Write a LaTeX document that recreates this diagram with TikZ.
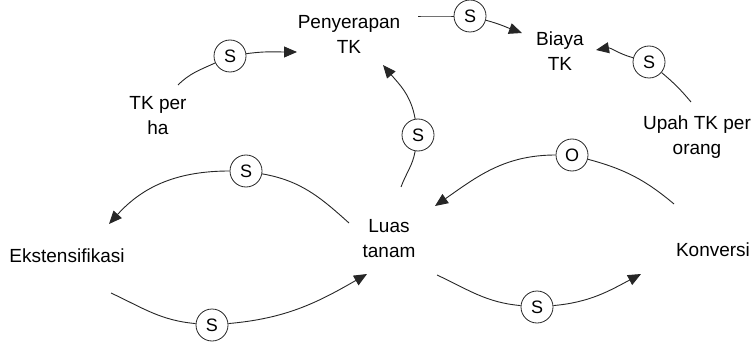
\documentclass[tikz,border=0pt]{standalone}
\usepackage{fontspec}
\setmainfont{Liberation Sans}
\usetikzlibrary{arrows.meta}

\tikzset{
  var/.style={align=center,font=\fontsize{19}{25}\selectfont,inner sep=2pt},
  sign/.style={circle,draw=black!85,line width=0.8pt,minimum size=32pt,inner sep=0pt,font=\fontsize{18}{18}\selectfont},
  link/.style={draw=black!85,line width=0.9pt},
  linkto/.style={link,-{Triangle[length=13pt,width=11pt]}}
}

\begin{document}
\begin{tikzpicture}[x=1pt,y=-1pt]
\useasboundingbox (0,0) rectangle (752,342);
%%Variables
\node[var] (penyer) at (349,34) {Penyerapan\\TK};
\node[var] (biaya) at (560,51) {Biaya\\TK};
\node[var] (tkha) at (158,116) {TK per\\ha};
\node[var] (upah) at (697,137) {Upah TK per\\orang};
\node[var] (luas) at (389,239) {Luas\\tanam};
\node[var] (ekst) at (67,256) {Ekstensifikasi};
\node[var] (konv) at (713,250) {Konversi};
%%Polarity
\node[sign] (s1) at (230,56) {S};
\node[sign] (s2) at (470,16) {S};
\node[sign] (s3) at (649,62) {S};
\node[sign] (s4) at (418,135) {S};
\node[sign] (o5) at (572,155) {O};
\node[sign] (s6) at (246,171) {S};
\node[sign] (s7) at (212,325) {S};
\node[sign] (s8) at (537,307) {S};
%%Free ends of the links
\coordinate (a0) at (178,85);
\coordinate (a1) at (297,52);
\coordinate (b0) at (418,16);
\coordinate (b1) at (522,33);
\coordinate (c0) at (691,102);
\coordinate (c1) at (596,50);
\coordinate (d0) at (401,187);
\coordinate (d1) at (383,65);
\coordinate (e0) at (674,204);
\coordinate (e1) at (435,206);
\coordinate (f0) at (349,223);
\coordinate (f1) at (109,224);
\coordinate (g0) at (111,293);
\coordinate (g1) at (367,274);
\coordinate (h0) at (437,275);
\coordinate (h1) at (641,274);
%%Links
\draw[link] (a0) to[out=45,in=205] (s1);
\draw[linkto] (s1) to[out=8,in=180] (a1);
\draw[link] (b0) to[out=0,in=180] (s2);
\draw[linkto] (s2) to[out=-15,in=160] (b1);
\draw[link] (c0) to[out=130,in=-40] (s3);
\draw[linkto] (s3) to[out=165,in=10] (c1);
\draw[link] (d0) to[out=70,in=-100] (s4);
\draw[linkto] (s4) to[out=100,in=-50] (d1);
\draw[link] (e0) to[out=140,in=-15] (o5);
\draw[linkto] (o5) to[out=180,in=35] (e1);
\draw[link] (f0) to[out=138,in=-10] (s6);
\draw[linkto] (s6) to[out=180,in=48] (f1);
\draw[link] (g0) to[out=-25,in=175] (s7);
\draw[linkto] (s7) to[out=5,in=-150] (g1);
\draw[link] (h0) to[out=-25,in=175] (s8);
\draw[linkto] (s8) to[out=5,in=-152] (h1);
\end{tikzpicture}
\end{document}
